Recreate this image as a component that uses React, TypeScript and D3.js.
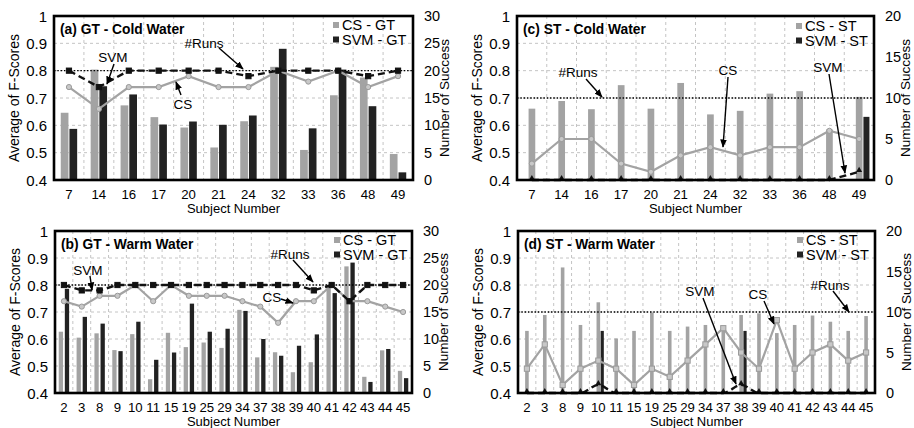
import * as d3 from "d3";

// subjects on the x axis
const coldSubjects = [7, 14, 16, 17, 20, 21, 24, 32, 33, 36, 48, 49];
const warmSubjects = [2, 3, 8, 9, 10, 11, 15, 19, 25, 29, 34, 37, 38, 39, 40, 41, 42, 43, 44, 45];

// average F-scores (bars, left axis)
const csGtCold = [0.646, 0.804, 0.673, 0.63, 0.592, 0.519, 0.615, 0.814, 0.51, 0.71, 0.775, 0.495];
const svmGtCold = [0.587, 0.743, 0.713, 0.603, 0.614, 0.602, 0.636, 0.88, 0.589, 0.804, 0.67, 0.428];
const csStCold = [0.661, 0.689, 0.659, 0.747, 0.661, 0.755, 0.64, 0.653, 0.716, 0.725, 0.585, 0.704];
const svmStCold = [0, 0, 0, 0, 0, 0, 0, 0, 0, 0, 0, 0.631];
const csGtWarm = [0.627, 0.605, 0.621, 0.559, 0.618, 0.451, 0.623, 0.57, 0.587, 0.567, 0.708, 0.532, 0.551, 0.477, 0.514, 0.795, 0.869, 0.46, 0.558, 0.482];
const svmGtWarm = [0.786, 0.682, 0.657, 0.555, 0.664, 0.523, 0.55, 0.731, 0.627, 0.638, 0.704, 0.6, 0.538, 0.575, 0.617, 0.77, 0.883, 0.441, 0.563, 0.455];
const csStWarm = [0.63, 0.689, 0.865, 0.652, 0.736, 0.602, 0.63, 0.698, 0.63, 0.646, 0.652, 0.648, 0.689, 0.695, 0.622, 0.652, 0.687, 0.664, 0.63, 0.685];
const svmStWarm = [0, 0, 0, 0, 0.63, 0, 0, 0, 0, 0, 0, 0, 0.63, 0, 0, 0, 0, 0, 0, 0];

// number of successes (lines, right axis)
const csRunsGtCold = [17, 13, 17, 17, 19, 17, 17, 20, 18, 20, 17, 19];
const svmRunsGtCold = [20, 17, 20, 20, 20, 20, 19, 20, 20, 20, 19, 20];
const csRunsStCold = [2, 5, 5, 2, 1, 3, 4, 3, 4, 4, 6, 5];
const svmRunsStCold = [0, 0, 0, 0, 0, 0, 0, 0, 0, 0, 0, 1];
const csRunsGtWarm = [17, 16, 18, 18, 20, 17, 20, 18, 18, 18, 17, 16, 13, 17, 17, 20, 17, 17, 16, 15];
const svmRunsGtWarm = [20, 19, 19, 20, 20, 20, 20, 20, 20, 20, 20, 20, 20, 20, 19, 20, 17, 20, 20, 20];
const csRunsStWarm = [3, 6, 1, 3, 4, 3, 1, 3, 2, 4, 6, 8, 5, 3, 9, 3, 5, 6, 4, 5];
const svmRunsStWarm = [0, 0, 0, 0, 1, 0, 0, 0, 0, 0, 0, 0, 1, 0, 0, 0, 0, 0, 0, 0];

const runsGt = 20;
const runsSt = 10;

const leftTicks = [0.4, 0.5, 0.6, 0.7, 0.8, 0.9, 1];
const rightTicksGt = [0, 5, 10, 15, 20, 25, 30];
const rightTicksSt = [0, 5, 10, 15, 20];

const FONT = "'Liberation Sans', Arial, Helvetica, sans-serif";
const GREY = "#a3a3a3";
const DARK = "#222";

const panels = [
  {
    title: "(a) GT - Cold Water", x0: 54, x1: 413, y0: 16, y1: 180,
    subjects: coldSubjects, cs: csGtCold, svm: svmGtCold, csRuns: csRunsGtCold, svmRuns: svmRunsGtCold,
    runs: runsGt, rightTicks: rightTicksGt, legend: ["CS - GT", "SVM - GT"], legendX: 333, legendY: 25,
    bar: { csDx: -8.2, csW: 7.7, svmDx: 0.5, svmW: 7.7 }, csMarker: "circle", svmMarker: "square", smooth: false,
    notes: [
      { text: "SVM", tx: 113, ty: 57, x1: 114, y1: 64, x2: 107, y2: 84 },
      { text: "CS", tx: 183, ty: 104, x1: 181, y1: 95, x2: 176, y2: 82 },
      { text: "#Runs", tx: 204, ty: 43, x1: 219, y1: 48, x2: 243, y2: 69 },
    ],
  },
  {
    title: "(c) ST - Cold Water", x0: 517, x1: 874, y0: 16, y1: 180,
    subjects: coldSubjects, cs: csStCold, svm: svmStCold, csRuns: csRunsStCold, svmRuns: svmRunsStCold,
    runs: runsSt, rightTicks: rightTicksSt, legend: ["CS - ST", "SVM - ST"], legendX: 796, legendY: 26,
    bar: { csDx: -3.3, csW: 6.7, svmDx: 4.3, svmW: 6 }, csMarker: "circle", svmMarker: "triangle", smooth: false,
    notes: [
      { text: "#Runs", tx: 578, ty: 72, x1: 586, y1: 79, x2: 602, y2: 97 },
      { text: "CS", tx: 728, ty: 70, x1: 728, y1: 77, x2: 723, y2: 147 },
      { text: "SVM", tx: 828, ty: 67, x1: 829, y1: 74, x2: 845, y2: 173 },
    ],
  },
  {
    title: "(b) GT - Warm Water", x0: 55, x1: 412, y0: 231, y1: 393,
    subjects: warmSubjects, cs: csGtWarm, svm: svmGtWarm, csRuns: csRunsGtWarm, svmRuns: svmRunsGtWarm,
    runs: runsGt, rightTicks: rightTicksGt, legend: ["CS - GT", "SVM - GT"], legendX: 334, legendY: 240,
    bar: { csDx: -5.2, csW: 4.3, svmDx: 0.9, svmW: 4.3 }, csMarker: "circle", svmMarker: "square", smooth: false,
    notes: [
      { text: "SVM", tx: 88, ty: 270, x1: 90, y1: 276, x2: 92, y2: 290 },
      { text: "#Runs", tx: 290, ty: 254, x1: 293, y1: 260, x2: 313, y2: 282 },
      { text: "CS", tx: 272, ty: 297, x1: 281, y1: 299, x2: 293, y2: 303 },
    ],
  },
  {
    title: "(d) ST - Warm Water", x0: 518, x1: 875, y0: 231, y1: 393,
    subjects: warmSubjects, cs: csStWarm, svm: svmStWarm, csRuns: csRunsStWarm, svmRuns: svmRunsStWarm,
    runs: runsSt, rightTicks: rightTicksSt, legend: ["CS - ST", "SVM - ST"], legendX: 797, legendY: 240,
    bar: { csDx: -1.8, csW: 3.6, svmDx: 2.3, svmW: 3.2 }, csMarker: "square", svmMarker: "triangle", smooth: true,
    notes: [
      { text: "SVM", tx: 700, ty: 291, x1: 703, y1: 298, x2: 736, y2: 384 },
      { text: "CS", tx: 758, ty: 294, x1: 764, y1: 301, x2: 774, y2: 324 },
      { text: "#Runs", tx: 830, ty: 285, x1: 833, y1: 291, x2: 849, y2: 312 },
    ],
  },
];

function Marker({ kind, x, y, fill, stroke }: any) {
  if (kind === "circle") return <circle cx={x} cy={y} r={2.6} fill={fill} stroke={stroke} strokeWidth={1} />;
  if (kind === "square") return <rect x={x - 2.6} y={y - 2.6} width={5.2} height={5.2} fill={fill} stroke={stroke} strokeWidth={1} />;
  const tri = d3.symbol(d3.symbolTriangle, 16)();
  return <path d={tri || ""} transform={`translate(${x},${y - 1.5})`} fill={fill} />;
}

function Panel({ p }: any) {
  const x = d3.scaleBand<string>().domain(p.subjects.map(String)).range([p.x0, p.x1]).padding(0);
  const y = d3.scaleLinear().domain([0.4, 1]).range([p.y1, p.y0]);
  const rightMax = p.rightTicks[p.rightTicks.length - 1];
  const yr = d3.scaleLinear().domain([0, rightMax]).range([p.y1, p.y0]);
  const cx = (i: number) => (x(String(p.subjects[i])) as number) + x.bandwidth() / 2;
  const midY = (p.y0 + p.y1) / 2;
  const midX = (p.x0 + p.x1) / 2;

  const csLine = d3.line<number>().x((_, i) => cx(i)).y((v) => yr(v));
  const svmLine = d3.line<number>().x((_, i) => cx(i)).y((v) => yr(v)).curve(p.smooth ? d3.curveMonotoneX : d3.curveLinear);

  const bars = (vals: number[], dx: number, w: number, fill: string) =>
    vals.map((v, i) =>
      v > 0.4 ? <rect key={i} x={cx(i) + dx} y={y(v)} width={w} height={y(0.4) - y(v)} fill={fill} /> : null
    );

  return (
    <g fontFamily={FONT}>
      {/* grid */}
      {leftTicks.slice(1, -1).map((t) => (
        <line key={"h" + t} x1={p.x0} x2={p.x1} y1={y(t)} y2={y(t)} stroke="#c4c4c4" strokeDasharray="3 3" strokeWidth={1} />
      ))}
      {p.subjects.slice(1).map((s: number) => {
        const gx = x(String(s)) as number;
        return <line key={"v" + s} x1={gx} x2={gx} y1={p.y0} y2={p.y1} stroke="#c4c4c4" strokeDasharray="3 3" strokeWidth={1} />;
      })}

      {bars(p.cs, p.bar.csDx, p.bar.csW, GREY)}
      {bars(p.svm, p.bar.svmDx, p.bar.svmW, DARK)}

      {/* #Runs */}
      <line x1={p.x0} x2={p.x1} y1={yr(p.runs)} y2={yr(p.runs)} stroke="#000" strokeWidth={1.4} strokeDasharray="1.5 1.8" />

      <path d={csLine(p.csRuns) || ""} fill="none" stroke={GREY} strokeWidth={2.2} />
      {p.csRuns.map((v: number, i: number) => (
        <Marker key={"c" + i} kind={p.csMarker} x={cx(i)} y={yr(v)} fill="#c8c8c8" stroke="#9a9a9a" />
      ))}
      <path d={svmLine(p.svmRuns) || ""} fill="none" stroke="#111" strokeWidth={2.4} strokeDasharray="7 4" />
      {p.svmRuns.map((v: number, i: number) => (
        <Marker key={"s" + i} kind={p.svmMarker} x={cx(i)} y={yr(v)} fill="#111" stroke="#111" />
      ))}

      <rect x={p.x0} y={p.y0} width={p.x1 - p.x0} height={p.y1 - p.y0} fill="none" stroke="#000" strokeWidth={2.6} />

      {/* annotations */}
      {p.notes.map((n: any) => (
        <g key={n.text}>
          <text x={n.tx} y={n.ty} textAnchor="middle" dominantBaseline="central" fontSize={13.5}>{n.text}</text>
          <line x1={n.x1} y1={n.y1} x2={n.x2} y2={n.y2} stroke="#000" strokeWidth={1.4} markerEnd="url(#arrow)" />
        </g>
      ))}

      {/* legend */}
      {p.legend.map((l: string, i: number) => (
        <g key={l}>
          <rect x={p.legendX} y={p.legendY + i * 14.5 - 3} width={6} height={6} fill={i === 0 ? GREY : DARK} />
          <text x={p.legendX + 9} y={p.legendY + i * 14.5} dominantBaseline="central" fontSize={14.5}>{l}</text>
        </g>
      ))}

      <text x={p.x0 + 6} y={p.y0 + 13} dominantBaseline="central" fontSize={13.8} fontWeight="bold">{p.title}</text>

      {/* axes */}
      {leftTicks.map((t) => (
        <text key={"l" + t} x={p.x0 - 7} y={y(t)} textAnchor="end" dominantBaseline="central" fontSize={15}>{d3.format("~g")(t)}</text>
      ))}
      {p.rightTicks.map((t: number) => (
        <text key={"r" + t} x={p.x1 + 11} y={yr(t)} dominantBaseline="central" fontSize={14.5}>{t}</text>
      ))}
      {p.subjects.map((s: number, i: number) => (
        <text key={"x" + s} x={cx(i)} y={p.y1 + 14.5} textAnchor="middle" dominantBaseline="central" fontSize={13.2}>{s}</text>
      ))}
      <text x={midX} y={p.y1 + 28} textAnchor="middle" dominantBaseline="central" fontSize={13}>Subject Number</text>
      <text transform={`translate(${p.x0 - 40},${midY}) rotate(-90)`} textAnchor="middle" dominantBaseline="central" fontSize={14}>Average of F-Scores</text>
      <text transform={`translate(${p.x1 + 31.5},${midY}) rotate(-90)`} textAnchor="middle" dominantBaseline="central" fontSize={13.5}>Number of Success</text>
    </g>
  );
}

export default function App() {
  return (
    <svg width={914} height={428} style={{ position: "absolute", left: 0, top: 0, background: "#fff" }}>
      <defs>
        <marker id="arrow" viewBox="0 0 10 10" refX="9" refY="5" markerWidth="6" markerHeight="6" orient="auto">
          <path d="M0,1 L10,5 L0,9 z" fill="#000" />
        </marker>
      </defs>
      <rect width={914} height={428} fill="#fff" />
      {panels.map((p) => (
        <Panel key={p.title} p={p} />
      ))}
    </svg>
  );
}
